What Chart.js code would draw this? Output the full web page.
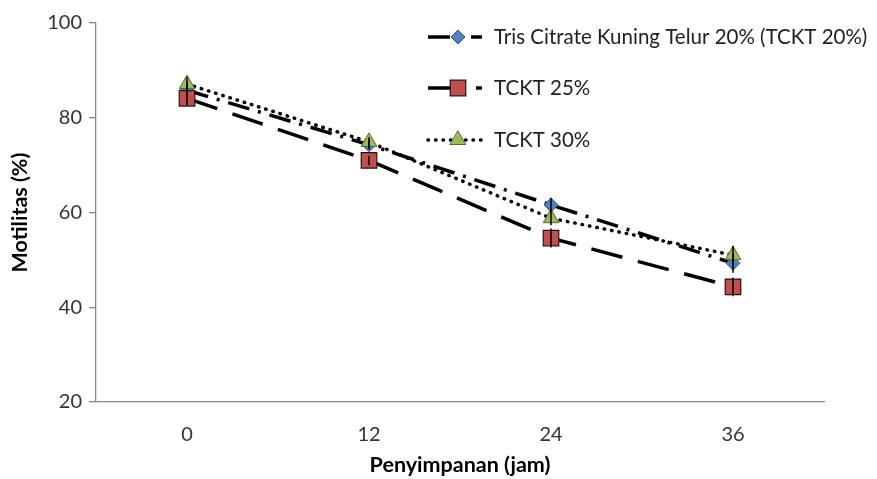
<!DOCTYPE html>
<html>
<head>
<meta charset="utf-8">
<script src="https://cdn.jsdelivr.net/npm/chart.js@4"></script>
<style>
  html, body { margin: 0; padding: 0; background: #fff; }
  #wrap { width: 877px; height: 479px; }
</style>
</head>
<body>
<div id="wrap"><canvas id="motilitas"></canvas></div>
<script>
// data
var categories = ['0', '12', '24', '36'];
var seriesNames = ['Tris Citrate Kuning Telur 20% (TCKT 20%)', 'TCKT 25%', 'TCKT 30%'];
var tckt20 = [85.8, 74.3, 61.6, 49.3];
var tckt25 = [84.1, 71.0, 54.6, 44.3];
var tckt30 = [87.1, 74.9, 58.8, 51.0];
var err20 = [1.5, 1.0, 1.5, 2.0];
var err25 = [1.5, 1.0, 2.0, 2.0];
var err30 = [1.5, 1.0, 1.5, 2.0];
var yTicks = [20, 40, 60, 80, 100];

var fontName = 'Lato, "Open Sans", sans-serif';

function drawMarker(ctx, style, r, x, y, fill, stroke, lw) {
  ctx.save();
  ctx.beginPath();
  if (style === 'rectRot') {
    ctx.moveTo(x, y - r); ctx.lineTo(x + r, y); ctx.lineTo(x, y + r); ctx.lineTo(x - r, y);
  } else if (style === 'rect') {
    var s = r * Math.SQRT1_2;
    ctx.rect(x - s, y - s, 2 * s, 2 * s);
  } else {
    var h = Math.sqrt(3) / 2 * r;
    ctx.moveTo(x, y - r); ctx.lineTo(x + h, y + r / 2); ctx.lineTo(x - h, y + r / 2);
  }
  ctx.closePath();
  ctx.fillStyle = fill; ctx.fill();
  ctx.lineWidth = lw; ctx.strokeStyle = stroke; ctx.setLineDash([]); ctx.stroke();
  ctx.restore();
}

// vertical error bars through the markers
var errorBars = {
  id: 'errorBars',
  afterDatasetsDraw: function(chart) {
    var ctx = chart.ctx;
    var y = chart.scales.y;
    var errs = [err20, err25, err30];
    ctx.save();
    ctx.strokeStyle = '#000';
    ctx.lineWidth = 1.5;
    ctx.setLineDash([]);
    chart.data.datasets.forEach(function(ds, i) {
      chart.getDatasetMeta(i).data.forEach(function(pt, j) {
        ctx.beginPath();
        ctx.moveTo(pt.x, y.getPixelForValue(ds.data[j] + errs[i][j]));
        ctx.lineTo(pt.x, y.getPixelForValue(ds.data[j] - errs[i][j]));
        ctx.stroke();
      });
    });
    ctx.restore();
  }
};

// legend drawn over the top right of the plot, like the original
var sideLegend = {
  id: 'sideLegend',
  afterDraw: function(chart) {
    var ctx = chart.ctx;
    var rows = [37, 88, 140];
    ctx.save();
    chart.data.datasets.forEach(function(ds, i) {
      var yy = rows[i];
      ctx.beginPath();
      ctx.strokeStyle = ds.borderColor;
      ctx.lineWidth = ds.borderWidth;
      ctx.lineCap = ds.borderCapStyle;
      ctx.setLineDash(ds.borderDash);
      ctx.moveTo(428, yy);
      ctx.lineTo(482, yy);
      ctx.stroke();
      drawMarker(ctx, ds.pointStyle, ds.pointRadius, 458, yy, ds.pointBackgroundColor, ds.pointBorderColor, ds.pointBorderWidth);
      ctx.fillStyle = '#222';
      ctx.font = '20.5px ' + fontName;
      ctx.textBaseline = 'middle';
      ctx.textAlign = 'left';
      ctx.fillText(ds.label, 494, yy);
    });
    ctx.restore();
  }
};

new Chart(document.getElementById('motilitas'), {
  type: 'line',
  data: {
    labels: categories,
    datasets: [
      {
        label: seriesNames[0],
        data: tckt20,
        order: 3,
        borderColor: '#000',
        borderWidth: 3.5,
        borderDash: [22, 9, 3, 9],
        borderCapStyle: 'butt',
        pointStyle: 'rectRot',
        pointRadius: 7,
        pointBackgroundColor: '#4F81BD',
        pointBorderColor: '#2F5A8F',
        pointBorderWidth: 1
      },
      {
        label: seriesNames[1],
        data: tckt25,
        order: 2,
        borderColor: '#000',
        borderWidth: 3.5,
        borderDash: [32, 16],
        borderCapStyle: 'butt',
        pointStyle: 'rect',
        pointRadius: 11,
        pointBackgroundColor: '#C0504D',
        pointBorderColor: '#2a1010',
        pointBorderWidth: 1.2
      },
      {
        label: seriesNames[2],
        data: tckt30,
        order: 1,
        borderColor: '#000',
        borderWidth: 3.5,
        borderDash: [0.5, 7],
        borderCapStyle: 'round',
        pointStyle: 'triangle',
        pointRadius: 9,
        pointBackgroundColor: '#9BBB59',
        pointBorderColor: '#556b2f',
        pointBorderWidth: 1
      }
    ]
  },
  options: {
    responsive: true,
    maintainAspectRatio: false,
    animation: false,
    tension: 0,
    layout: { padding: { top: 23, right: 53, left: 0, bottom: 0 } },
    plugins: {
      legend: { display: false },
      tooltip: { enabled: false }
    },
    scales: {
      x: {
        offset: true,
        grid: { display: false, drawTicks: false },
        border: { display: true, color: '#868686', width: 1.3 },
        ticks: { padding: 21, color: '#333', font: { family: fontName, size: 20 } },
        title: {
          display: true,
          text: 'Penyimpanan (jam)',
          color: '#000',
          font: { family: fontName, size: 21.5, weight: 'bold' },
          padding: { top: 4, bottom: 1 }
        },
        afterFit: function(scale) { scale.height = 77; }
      },
      y: {
        min: 20,
        max: 100,
        afterBuildTicks: function(scale) {
          scale.ticks = yTicks.map(function(v) { return { value: v }; });
        },
        grid: { drawOnChartArea: false, drawTicks: true, tickLength: 7, color: '#868686', lineWidth: 1.3 },
        border: { display: true, color: '#868686', width: 1.3 },
        ticks: { padding: 7, color: '#333', font: { family: fontName, size: 20 } },
        title: {
          display: true,
          text: 'Motilitas (%)',
          color: '#000',
          font: { family: fontName, size: 21.5, weight: 'bold' },
          padding: { top: 7, bottom: 4 }
        },
        afterFit: function(scale) { scale.width = 96; }
      }
    }
  },
  plugins: [errorBars, sideLegend]
});
</script>
</body>
</html>
